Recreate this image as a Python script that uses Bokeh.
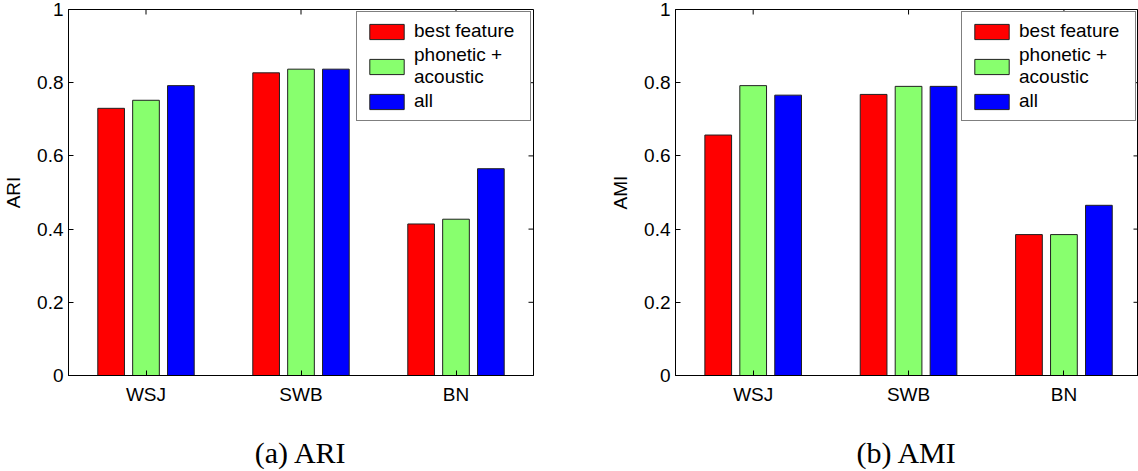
import math
from bokeh.plotting import figure
from bokeh.models import (ColumnDataSource, FixedTicker, Range1d,
                          Legend, LegendItem)
from bokeh.layouts import row
from bokeh.embed import file_html
from bokeh.resources import INLINE
from bokeh.transform import dodge

# ---- data ----
categories = ["WSJ", "SWB", "BN"]
x_pos = [1, 2, 3]
series_labels = ["best feature", "phonetic +\nacoustic", "all"]
series_colors = ["#FF0000", "#88FF6E", "#0000FF"]

ari_best = [0.730, 0.827, 0.414]
ari_phon = [0.752, 0.837, 0.427]
ari_all = [0.792, 0.837, 0.565]

ami_best = [0.657, 0.768, 0.385]
ami_phon = [0.792, 0.790, 0.385]
ami_all = [0.766, 0.790, 0.465]

ytick_vals = [0.0, 0.2, 0.4, 0.6, 0.8, 1.0]
ytick_labels = ["0", "0.2", "0.4", "0.6", "0.8", "1"]

FONT = "Liberation Sans"
FS = "19px"


def make(best, phon, allv, ylabel, caption, width, bl, br, xend):
    p = figure(width=width, height=471, x_range=Range1d(0.5, xend),
               y_range=Range1d(0, 1), output_backend="svg",
               toolbar_location=None, min_border_left=bl,
               min_border_right=br, min_border_top=9, min_border_bottom=95)
    p.xgrid.visible = False
    p.ygrid.visible = False
    p.outline_line_color = "black"
    p.outline_line_alpha = 1
    p.background_fill_color = "white"
    p.border_fill_color = "white"

    src = ColumnDataSource(dict(x=x_pos, best=best, phon=phon, allv=allv))
    offs = [-0.225, 0.0, 0.225]
    keys = ["best", "phon", "allv"]
    rends = []
    for k, o, c in zip(keys, offs, series_colors):
        r = p.vbar(x=dodge("x", o), top=k, bottom=0, width=0.172, source=src,
                   fill_color=c, line_color="#202020", line_width=1)
        rends.append(r)

    # inward ticks on top and right edges of the box
    p.ray(x=x_pos, y=[1.0] * len(x_pos), length=5, length_units="screen",
          angle=-math.pi / 2, line_color="black", line_width=1)
    p.ray(x=[xend] * len(ytick_vals), y=ytick_vals, length=5,
          length_units="screen", angle=math.pi, line_color="black",
          line_width=1)

    xa = p.xaxis[0]
    xa.ticker = FixedTicker(ticks=x_pos)
    xa.major_label_overrides = dict(zip(x_pos, categories))
    ya = p.yaxis[0]
    ya.ticker = FixedTicker(ticks=ytick_vals)
    ya.major_label_overrides = dict(zip(ytick_vals, ytick_labels))
    ya.axis_label = ylabel
    for ax in (xa, ya):
        ax.major_tick_in = 5
        ax.major_tick_out = 0
        ax.minor_tick_line_color = None
        ax.axis_line_color = "black"
        ax.major_tick_line_color = "black"
        ax.major_label_text_font = FONT
        ax.major_label_text_font_size = FS
        ax.major_label_text_color = "black"
        ax.axis_label_text_font = FONT
        ax.axis_label_text_font_size = FS
        ax.axis_label_text_font_style = "normal"
        ax.axis_label_text_color = "black"
    xa.major_label_standoff = 8
    ya.major_label_standoff = 5
    ya.axis_label_standoff = 10

    # caption below the panel, as the x axis label
    xa.axis_label = caption
    xa.axis_label_text_font = "Liberation Serif"
    xa.axis_label_text_font_size = "30px"
    xa.axis_label_standoff = 28

    legend = Legend(items=[LegendItem(label=s, renderers=[r])
                           for s, r in zip(series_labels, rends)],
                    location="top_right")
    legend.label_text_font = FONT
    legend.label_text_font_size = FS
    legend.label_text_color = "black"
    legend.glyph_width = 43
    legend.glyph_height = 19
    legend.label_width = 108
    legend.label_standoff = 6
    legend.padding = 8
    legend.spacing = 2
    legend.margin = 2
    legend.border_line_color = "black"
    legend.border_line_width = 1
    legend.background_fill_alpha = 1
    p.add_layout(legend)
    return p


p1 = make(ari_best, ari_phon, ari_all, "ARI", "(a) ARI", 569, 67, 36, 3.5)
p2 = make(ami_best, ami_phon, ami_all, "AMI", "(b) AMI", 569, 106, 0, 3.48)

layout = row(p1, p2)
open("out.html", "w").write(file_html(layout, INLINE))
